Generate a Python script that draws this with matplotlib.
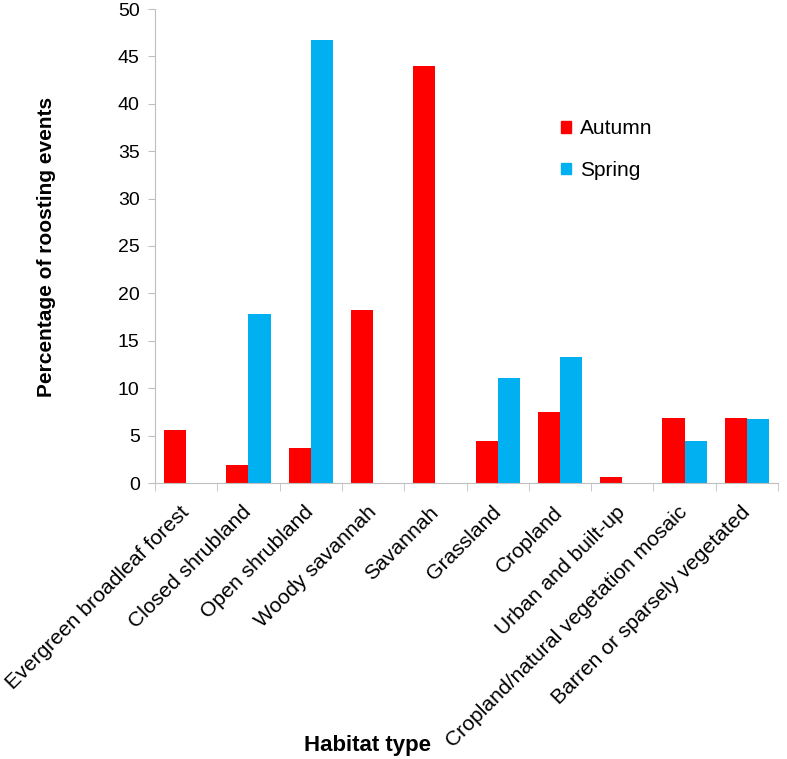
import numpy as np
import matplotlib.pyplot as plt
from matplotlib.patches import Patch

plt.rcParams['font.family'] = ['Liberation Sans', 'DejaVu Sans']

habitats = ['Evergreen broadleaf forest', 'Closed shrubland', 'Open shrubland',
            'Woody savannah', 'Savannah', 'Grassland', 'Cropland',
            'Urban and built-up', 'Cropland/natural vegetation mosaic',
            'Barren or sparsely vegetated']
autumn = [5.6, 1.9, 3.7, 18.2, 44.0, 4.4, 7.5, 0.6, 6.9, 6.9]
spring = [0, 17.8, 46.7, 0, 0, 11.1, 13.3, 0, 4.4, 6.7]
yticks = [0, 5, 10, 15, 20, 25, 30, 35, 40, 45, 50]

red = '#FF0000'
blue = '#00B0F0'
grey = '#BFBFBF'

fig = plt.figure(figsize=(7.87, 7.59), dpi=100)
ax = fig.add_axes([155/787, (759-483)/759, 623/787, (483-9)/759])

x = np.arange(len(habitats))
w = 0.355
ax.bar(x - w/2, autumn, w, color=red, label='Autumn')
ax.bar(x + w/2, spring, w, color=blue, label='Spring')

ax.set_xlim(-0.5, len(habitats) - 0.5)
ax.set_ylim(0, 50)
ax.set_yticks(yticks)

ax.spines['top'].set_visible(False)
ax.spines['right'].set_visible(False)
ax.spines['left'].set_color(grey)
ax.spines['bottom'].set_color(grey)

ax.tick_params(axis='y', colors=grey, labelcolor='black', labelsize=14, length=5, pad=6, direction='out')
ax.set_xticks(x)
ax.set_xticklabels(habitats, rotation=45, ha='right', va='center', rotation_mode='anchor', fontsize=15.2)
ax.set_xticks(np.arange(-0.5, len(habitats)), minor=True)
ax.tick_params(axis='x', which='major', length=0, pad=19)
ax.tick_params(axis='x', which='minor', colors=grey, length=6)

fig.text(47/787, 1 - 247/759, 'Percentage of roosting events', rotation=90,
         ha='center', va='center', fontsize=15, fontweight='bold')
fig.text(367/787, 1 - 745/759, 'Habitat type', ha='center', va='center',
         fontsize=16, fontweight='bold')

handles = [Patch(color=red), Patch(color=blue)]
ax.legend(handles, ['Autumn', 'Spring'], loc='upper left',
          bbox_to_anchor=(561/787, 1 - 119/759), bbox_transform=fig.transFigure,
          frameon=False, fontsize=15, borderpad=0, borderaxespad=0,
          handlelength=0.5, handleheight=0.5, handletextpad=0.4, labelspacing=1.1)

fig.savefig('out.png', dpi=100)
